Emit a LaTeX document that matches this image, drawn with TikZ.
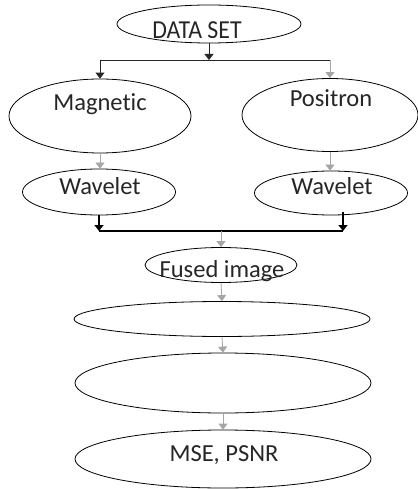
\documentclass[tikz,border=0pt]{standalone}
\usepackage{fontspec}
\setmainfont[Ligatures=NoCommon]{Carlito}
\usetikzlibrary{shapes.geometric,arrows.meta}
\begin{document}
\begin{tikzpicture}[x=1bp,y=-1bp,
  ell/.style={draw=black,line width=0.8bp,ellipse,inner sep=0pt},
  lbl/.style={font=\fontsize{24.6}{29}\selectfont,inner sep=0pt,anchor=base,text=black!85},
  tip/.style={-{Triangle[width=9bp,length=6bp]}},
  dark/.style={draw=black!85,line width=0.9bp},
  light/.style={draw=black!35,line width=0.8bp},
  bar/.style={draw=black,line width=1.6bp}]
\useasboundingbox (0,0) rectangle (417,489);
\fill[white] (0,0) rectangle (417,489);
% ellipses
\node[ell,minimum width=184bp,minimum height=38bp] (ds) at (209,24) {};
\node[ell,minimum width=182bp,minimum height=74bp] (mag) at (100,116) {};
\node[ell,minimum width=176bp,minimum height=73bp] (pos) at (330,115) {};
\node[ell,minimum width=153bp,minimum height=46bp] (wl) at (99,192) {};
\node[ell,minimum width=153bp,minimum height=44bp] (wr) at (331,193) {};
\node[ell,minimum width=152bp,minimum height=35bp] (fu) at (221,265) {};
\node[ell,minimum width=296bp,minimum height=35bp] (e5) at (222,319) {};
\node[ell,minimum width=296bp,minimum height=60bp] (e6) at (223,383) {};
\node[ell,minimum width=296bp,minimum height=58bp] (e7) at (223,459) {};
% labels
\begin{scope}
\clip (100,0) rectangle (320,37.5);
\node[lbl,font=\fontsize{26}{30}\selectfont,xscale=0.92] (tds) at (197,39) {DATA SET};
\end{scope}
\node[lbl] (tmag) at (100,111) {Magnetic};
\node[lbl] (tpos) at (331,107) {Positron};
\node[lbl] (twl) at (100,195) {Wavelet};
\node[lbl] (twr) at (332,195) {Wavelet};
\node[lbl] (tfu) at (222,277) {Fused image};
\node[lbl] (te7) at (224,461) {MSE, PSNR};
% connectors
\coordinate (j1) at (209,60);
\coordinate (j1l) at (100,60);
\coordinate (j1r) at (330,60);
\draw[dark,tip] (ds.south) -- (j1);
\draw[dark] (j1l) -- (j1r);
\draw[dark,tip] (j1l) -- (mag.north);
\draw[light,tip] (j1r) -- (pos.north);
\draw[light,tip] (mag.south) -- (mag.south |- wl.north);
\draw[light,tip] (pos.south) -- (pos.south |- wr.north);
\coordinate (bl) at (99,231);
\coordinate (br) at (343,231);
\coordinate (sr) at (343,212);
\coordinate (jm) at (221,231);
\draw[bar,tip] (wl.south) -- (bl);
\draw[bar,tip] (sr) -- (br);
\draw[bar] (bl) -- (br);
\draw[light,tip] (jm) -- (fu.north);
\draw[light,tip] (fu.south) -- (e5.north);
\draw[light,tip] (e5.south) -- (e6.north);
\draw[light,tip] (e6.south) -- (e7.north);
\end{tikzpicture}
\end{document}
